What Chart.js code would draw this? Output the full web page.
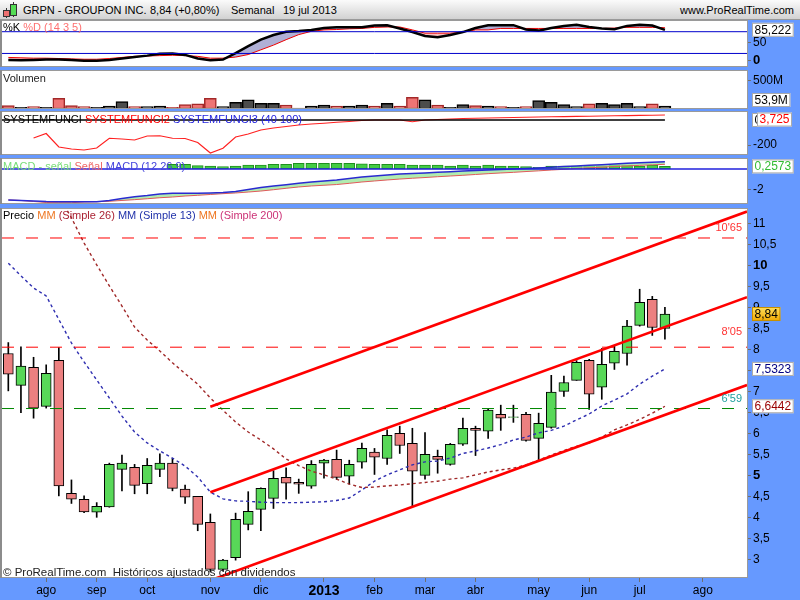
<!DOCTYPE html>
<html>
<head>
<meta charset="utf-8">
<script src="https://cdn.jsdelivr.net/npm/chart.js@4.4.1/dist/chart.umd.min.js"></script>
<style>
body { margin: 0; width: 800px; height: 600px; overflow: hidden; font-family: Arial, "Liberation Sans", sans-serif; }
#wrap { position: relative; width: 800px; height: 600px; background: #6699ff; }
#wrap canvas { position: absolute; left: 0; }
#head { position: absolute; left: 0; top: 0; width: 800px; height: 19px; border-bottom: 1px solid #999;
  background: linear-gradient(#fbfbfb, #d2d2d2); font-size: 11px; color: #000; }
#head span { position: absolute; top: 4px; white-space: pre; }
.ic { position: absolute; border: 1px solid #333; }
.lg { position: absolute; left: 3px; font-size: 11px; line-height: 13px; white-space: pre; }
</style>
</head>
<body>
<div id="wrap">
  <div id="head">
    <div style="position:absolute;left:6px;top:8px;width:1px;height:10px;background:#333"></div>
    <div class="ic" style="left:3px;top:10px;width:5px;height:5px;background:#ee7070"></div>
    <div style="position:absolute;left:13px;top:2px;width:1px;height:15px;background:#333"></div>
    <div class="ic" style="left:10px;top:4px;width:5px;height:10px;background:#55dd55"></div>
    <span style="left:23px">GRPN - GROUPON INC.</span>
    <span style="left:150px">8,84 (+0,80%)</span>
    <span style="left:231px">Semanal</span>
    <span style="left:283px">19 jul 2013</span>
    <span style="right:6px">www.ProRealTime.com</span>
  </div>
  <canvas id="stoch" width="800" height="47" style="top:20px"></canvas>
  <canvas id="vol" width="800" height="39" style="top:70px"></canvas>
  <canvas id="sys" width="800" height="44" style="top:111px"></canvas>
  <canvas id="macd" width="800" height="46" style="top:158px"></canvas>
  <canvas id="main" width="800" height="392" style="top:208px"></canvas>
  <div class="lg" style="top:21px"><span style="color:#000">%K</span> <span style="color:#ff7070">%D (14 3 5)</span></div>
  <div class="lg" style="top:72px;color:#222">Volumen</div>
  <div class="lg" style="top:113px"><span style="color:#000">SYSTEMFUNCI</span> <span style="color:#ff0000">SYSTEMFUNCI2</span> <span style="color:#2222dd">SYSTEMFUNCI3 (40 100)</span></div>
  <div class="lg" style="top:160px"><span style="color:#77dd77">MACD - señal</span> <span style="color:#ee6666">Señal</span> <span style="color:#4444dd">MACD (12 26 9)</span></div>
  <div class="lg" style="top:209px"><span style="color:#000">Precio</span> <span style="color:#ee7722">MM</span><span style="color:#aa2233"> (Simple 26)</span> <span style="color:#2233aa">MM (Simple 13)</span> <span style="color:#ee7722">MM</span><span style="color:#cc3377"> (Simple 200)</span></div>
  <div class="lg" style="top:566px;color:#222;font-size:11.5px">© ProRealTime.com  Históricos ajustados con dividendos</div>
</div>
<script>
const monthIdx = [3, 7, 11, 16, 20, 25, 29, 33, 37, 42, 46, 50, 55]
const monthNames = ['ago', 'sep', 'oct', 'nov', 'dic', '2013', 'feb', 'mar', 'abr', 'may', 'jun', 'jul', 'ago']

const openP = [7.90, 7.14, 7.57, 6.64, 7.74, 4.57, 4.43, 4.12, 4.25, 5.14, 5.19, 4.80, 5.14, 5.29, 4.67, 4.50, 3.88, 2.76, 3.04, 3.83,
  4.19, 4.45, 4.95, 4.83, 4.74, 5.29, 5.38, 4.98, 5.31, 5.55, 5.40, 6.00, 5.76, 5.00, 5.45, 5.26, 5.74, 6.12, 6.05, 6.45,
  6.38, 6.45, 5.88, 6.14, 7.00, 7.26, 7.74, 7.10, 7.67, 7.90, 8.57, 9.19, 8.50]
const highP = [8.16, 8.06, 7.81, 7.63, 8.04, 4.89, 4.51, 4.35, 5.29, 5.48, 5.26, 5.40, 5.51, 5.40, 4.77, 4.50, 4.08, 3.00, 4.10, 4.61,
  4.70, 5.11, 5.18, 4.91, 5.35, 5.38, 5.60, 5.36, 5.77, 5.64, 6.08, 6.17, 6.12, 6.02, 5.60, 5.76, 6.36, 6.17, 6.57, 6.67,
  6.67, 6.50, 6.48, 7.38, 7.36, 7.73, 7.76, 8.02, 8.07, 8.69, 9.43, 9.26, 9.00]
const lowP = [7.01, 6.49, 6.36, 6.60, 4.51, 4.33, 4.11, 4.00, 4.24, 4.63, 4.56, 4.56, 4.97, 4.63, 4.33, 3.68, 2.70, 2.72, 2.98, 3.70,
  3.68, 4.21, 4.43, 4.57, 4.69, 4.93, 4.90, 4.79, 5.17, 5.02, 5.26, 5.52, 4.26, 4.91, 5.05, 5.24, 5.71, 5.47, 5.88, 6.07,
  6.26, 5.81, 5.36, 6.12, 6.88, 7.26, 6.57, 6.81, 7.52, 7.62, 8.55, 8.33, 8.24]
const closeP = [7.41, 7.60, 6.60, 7.43, 4.75, 4.43, 4.13, 4.26, 5.26, 5.29, 4.76, 5.24, 5.29, 4.69, 4.48, 3.83, 2.76, 2.98, 3.95, 4.14,
  4.69, 4.93, 4.81, 4.79, 5.26, 5.36, 4.95, 5.26, 5.64, 5.43, 5.95, 5.71, 5.10, 5.50, 5.38, 5.74, 6.12, 6.07, 6.55, 6.36,
  6.39, 5.83, 6.24, 6.98, 7.21, 7.69, 6.93, 7.64, 7.95, 8.55, 9.12, 8.52, 8.84]

const volumeM = [60, 30, 42, 30, 192, 60, 42, 30, 54, 132, 42, 42, 54, 30, 78, 91, 192, 42, 120, 163,
  101, 101, 72, 18, 54, 72, 54, 54, 72, 54, 101, 54, 210, 163, 72, 30, 78, 60, 54, 42,
  30, 42, 150, 120, 78, 42, 91, 101, 78, 101, 42, 91, 53.9]

const ma26 = [12.9, 12.6, 12.3, 12.0, 11.65, 11.13, 10.53, 10.01, 9.51, 9.03, 8.53, 8.22, 7.96, 7.68, 7.42, 7.17, 6.84, 6.55, 6.27, 6.03,
  5.84, 5.63, 5.39, 5.23, 5.10, 5.01, 4.91, 4.79, 4.71, 4.72, 4.75, 4.77, 4.80, 4.83, 4.86, 4.91, 4.94, 5.01, 5.08, 5.13,
  5.17, 5.25, 5.36, 5.48, 5.59, 5.69, 5.77, 5.91, 6.08, 6.20, 6.33, 6.48, 6.6442]
const ma13 = [10.05, 9.75, 9.46, 9.27, 8.71, 8.15, 7.70, 7.27, 6.84, 6.41, 6.03, 5.77, 5.58, 5.41, 5.22, 4.96, 4.60, 4.44, 4.39, 4.38,
  4.36, 4.35, 4.35, 4.35, 4.36, 4.37, 4.40, 4.46, 4.65, 4.86, 5.01, 5.13, 5.25, 5.32, 5.34, 5.41, 5.52, 5.58, 5.65, 5.73,
  5.84, 5.91, 6.01, 6.07, 6.17, 6.32, 6.46, 6.65, 6.79, 6.94, 7.17, 7.36, 7.5323]

const stochK = [2, 1, 2, 3, 3, 2, 0, 0, 2, 6, 10, 14, 19, 20, 16, 6, 1, 3, 21, 40,
  58, 71, 80, 82, 85, 90, 92, 92, 92, 97, 98, 89, 79, 68, 65, 71, 79, 90, 98, 98,
  98, 86, 83, 90, 96, 99, 93, 89, 87, 96, 99, 97, 85.222]
const stochD = [9, 8, 7, 7, 6, 5, 4, 4, 6, 9, 12, 13, 14, 15, 14, 12, 7, 7, 10, 17,
  30, 43, 58, 72, 81, 85, 86, 88, 89, 92, 93, 93, 85, 76, 76, 76, 79, 85, 85, 89,
  89, 89, 89, 89, 89, 89, 89, 89, 90, 92, 92, 92, 91]
const stochLevels = [80, 20]

const sysRed = [null, null, -144, -108, -216, -232, -240, -224, -146, -152, -160, -128, -126, -146, -148, -180, -264, -226, -136, -112,
  -80, -64, -52, -40, -32, -26, -18, -12, -4, 0, 0, 0, -14, 0, 4, 8, 12, 14, 16, 18,
  20, 22, 24, 26, 27, 29, 30, 32, 34, 35, 37, 38, 40]
const sysBlack = 0

const macdLine = [-3.05, -3.1, -3.15, -3.2, -3.22, -3.22, -3.22, -3.22, -3.1, -2.9, -2.73, -2.61, -2.46, -2.39, -2.39, -2.39, -2.36, -2.32, -2.22, -2.02,
  -1.82, -1.67, -1.55, -1.41, -1.28, -1.18, -1.08, -0.94, -0.79, -0.69, -0.59, -0.49, -0.44, -0.39, -0.33, -0.27, -0.2, -0.15, -0.1, -0.05,
  0, 0.05, 0.1, 0.17, 0.25, 0.3, 0.36, 0.42, 0.49, 0.56, 0.62, 0.67, 0.72]
const macdSignal = [-3.05, -3.1, -3.2, -3.3, -3.32, -3.32, -3.25, -3.22, -3.18, -3.1, -3.02, -2.93, -2.83, -2.76, -2.66, -2.59, -2.51, -2.43, -2.36, -2.27,
  -2.17, -2.04, -1.9, -1.77, -1.67, -1.6, -1.53, -1.41, -1.28, -1.18, -1.08, -0.99, -0.91, -0.84, -0.76, -0.69, -0.62, -0.54, -0.46, -0.39,
  -0.33, -0.25, -0.18, -0.1, -0.03, 0.05, 0.12, 0.18, 0.25, 0.3, 0.36, 0.41, 0.46]
const macdHist = [null, null, null, null, null, null, null, null, null, null, null, null, null, 0.46, 0.46, 0.33, 0.30, 0.23, 0.30, 0.39,
  0.39, 0.46, 0.46, 0.56, 0.56, 0.56, 0.56, 0.56, 0.52, 0.46, 0.46, 0.46, 0.39, 0.39, 0.39, 0.30, 0.39, 0.30, 0.39, 0.30,
  0.30, 0.23, 0.17, 0.30, 0.30, 0.30, 0.30, 0.30, 0.39, 0.39, 0.30, 0.39, 0.2573]

const priceTicks = [3, 3.5, 4, 4.5, 5, 5.5, 6, 6.5, 7, 7.5, 8, 8.5, 9, 9.5, 10, 10.5, 11]
const levels = [10.65, 8.05, 6.59]
const levelText = ["10'65", "8'05", "6'59"]
const channelX = [16, 58.5]
const channelUpper = [6.63, 11.28]
const channelMiddle = [4.595, 9.24]
const channelLower = [2.5, 7.15]

const BLUE = '#6699ff'
const RED_BODY = '#ec8080'
const GREEN_BODY = '#58d858'

Chart.defaults.animation = false
Chart.defaults.events = []
Chart.defaults.font.family = 'Arial, "Liberation Sans", sans-serif'
Chart.defaults.font.size = 12
Chart.defaults.color = '#000'
Chart.defaults.elements.point.radius = 0
Chart.defaults.plugins.legend.display = false
Chart.defaults.plugins.tooltip.enabled = false

const pts = (arr) => arr.map((v, i) => ({ x: i, y: v }))
const span = (v, from = -0.5, to = 58.5) => [{ x: from, y: v }, { x: to, y: v }]
const comma = (v) => String(v).replace('.', ',')
const isUp = (i) => closeP[i] >= openP[i]

const drawBox = (chart, b) => {
  const { ctx, chartArea: a } = chart
  ctx.font = '12px Arial, "Liberation Sans", sans-serif'
  const w = ctx.measureText(b.text).width + 5
  const h = 14
  let y = chart.scales.y.getPixelForValue(b.value) - h / 2
  y = Math.max(a.top + 1, Math.min(a.bottom - h - 2, y))
  const x = a.right + 5 + (b.dx || 0)
  if (b.gold) {
    const g = ctx.createLinearGradient(0, y, 0, y + h)
    g.addColorStop(0, '#ffe060')
    g.addColorStop(1, '#f0a800')
    ctx.fillStyle = g
  } else ctx.fillStyle = '#fff'
  ctx.fillRect(x, y, w, h)
  ctx.strokeStyle = b.gold ? '#c89000' : '#aaa'
  ctx.lineWidth = 1
  ctx.strokeRect(x + 0.5, y + 0.5, w - 1, h - 1)
  ctx.fillStyle = b.color
  ctx.textBaseline = 'middle'
  ctx.textAlign = 'left'
  ctx.fillText(b.text, x + 2.5, y + h / 2 + 0.5)
}

const panelPlugin = (boxes = []) => ({
  id: 'panel',
  beforeDraw: (chart) => {
    const { ctx, chartArea: a, width, height } = chart
    ctx.save()
    ctx.fillStyle = BLUE
    ctx.fillRect(0, 0, width, height)
    ctx.fillStyle = '#fff'
    ctx.fillRect(a.left, a.top, a.right - a.left, a.bottom - a.top)
    ctx.restore()
  },
  afterDraw: (chart) => {
    const { ctx, chartArea: a } = chart
    ctx.save()
    ctx.strokeStyle = '#9a9a9a'
    ctx.lineWidth = 1
    ctx.strokeRect(a.left - 0.5, a.top + 0.5, a.right - a.left + 1, a.bottom - a.top - 1)
    ctx.fillStyle = '#8c8c8c'
    ctx.fillRect(0, a.top, 2, a.bottom - a.top)
    boxes.forEach((b) => drawBox(chart, b))
    ctx.restore()
  }
})

const levelLabels = {
  id: 'levelLabels',
  afterDatasetsDraw: (chart) => {
    const { ctx, chartArea: a } = chart
    const colors = ['#ff3333', '#ff3333', '#22a0a0']
    const dy = [10, 15, 10]
    ctx.save()
    ctx.font = '11px Arial, "Liberation Sans", sans-serif'
    ctx.textAlign = 'right'
    ctx.textBaseline = 'middle'
    levels.forEach((v, i) => {
      ctx.fillStyle = colors[i]
      ctx.fillText(levelText[i], a.right - 5, chart.scales.y.getPixelForValue(v) - dy[i])
    })
    ctx.restore()
  }
}

const xHidden = { type: 'linear', display: false, min: -0.5, max: 58.5, offset: false, grid: { offset: false } }

// tick labels must not shrink the value range, so the label padding is dropped after fit
const yScale = (min, max, ticks, label, bold = []) => ({
  type: 'linear', position: 'right', min, max, offset: false,
  afterFit: (s) => { s.width = 53; s.paddingTop = 0; s.paddingBottom = 0 },
  afterBuildTicks: (s) => { s.ticks = ticks.map((v) => ({ value: v })) },
  grid: { drawOnChartArea: false, tickLength: 4, color: '#6f6f6f' },
  border: { display: false },
  ticks: {
    padding: 2, color: '#000', callback: label,
    font: (c) => (c.tick && bold.includes(c.tick.value) ? { size: 13, weight: 'bold' } : { size: 12 })
  }
})

const baseOpts = (y, x = xHidden) => ({
  responsive: false,
  layout: { padding: { left: 2, right: 0, top: 0, bottom: 0 }, autoPadding: false },
  scales: { x, y }
})

// stochastic
new Chart(document.getElementById('stoch'), {
  type: 'line',
  data: {
    datasets: [
      { data: pts(stochK), borderColor: '#000', borderWidth: 2.5, order: 1 },
      { data: pts(stochD), borderColor: '#ee0000', borderWidth: 1, order: 2,
        fill: { target: 0, above: 'rgba(255,170,170,0.75)', below: 'rgba(150,150,200,0.75)' } },
      ...stochLevels.map((v) => ({ data: span(v), borderColor: '#0000cc', borderWidth: 1, order: 0 }))
    ]
  },
  options: baseOpts(yScale(-17.4, 112.3, [0, 50], (v) => String(v), [0])),
  plugins: [panelPlugin([{ value: stochK[stochK.length - 1], text: '85,222', color: '#000' }])]
})

// volume
new Chart(document.getElementById('vol'), {
  type: 'bar',
  data: {
    datasets: [{
      data: pts(volumeM),
      backgroundColor: volumeM.map((_, i) => (isUp(i) ? '#4c4c4c' : '#ee7474')),
      borderColor: volumeM.map((_, i) => (isUp(i) ? '#000' : '#a32828')),
      borderWidth: 1.5, borderSkipped: false, barThickness: 12
    }]
  },
  options: baseOpts(yScale(0, 696, [500], (v) => v + 'M')),
  plugins: [panelPlugin([{ value: volumeM[volumeM.length - 1], text: '53,9M', color: '#000' }])]
})

// systemfunci
new Chart(document.getElementById('sys'), {
  type: 'line',
  data: {
    datasets: [
      { data: span(sysBlack, -0.5, 52), borderColor: '#000', borderWidth: 1.5 },
      { data: pts(sysRed), borderColor: '#ff2020', borderWidth: 1.2, spanGaps: false }
    ]
  },
  options: baseOpts(yScale(-280, 72, [-200], (v) => String(v))),
  plugins: [panelPlugin([
    { value: sysBlack, text: '0', color: '#000' },
    { value: 3.725, text: '3,725', color: '#ff0000', dx: 5 }
  ])]
})

// macd
new Chart(document.getElementById('macd'), {
  type: 'bar',
  data: {
    datasets: [
      { type: 'line', data: pts(macdLine), borderColor: '#2a2ad0', borderWidth: 1.5, order: 1 },
      { type: 'line', data: pts(macdSignal), borderColor: '#e05a5a', borderWidth: 1, order: 2,
        fill: { target: 0, above: 'rgba(255,180,180,0.7)', below: 'rgba(150,230,150,0.75)' } },
      { type: 'line', data: span(0), borderColor: '#2020dd', borderWidth: 1.5, order: 0 },
      { data: pts(macdHist), backgroundColor: '#44cc44', borderColor: '#1f8f1f', borderWidth: 1,
        borderSkipped: false, barThickness: 11, order: 3 }
    ]
  },
  options: baseOpts(yScale(-3.448, 1.084, [-2], (v) => String(v))),
  plugins: [panelPlugin([{ value: macdHist[macdHist.length - 1], text: '0,2573', color: '#33bb33' }])]
})

// price
const xMain = {
  type: 'linear', min: -0.5, max: 58.5, offset: false,
  afterFit: (s) => { s.height = 22; s.paddingLeft = 0; s.paddingRight = 0 },
  afterBuildTicks: (s) => { s.ticks = monthIdx.map((v) => ({ value: v })) },
  grid: { drawOnChartArea: false, tickLength: 4, color: '#6f6f6f', offset: false },
  border: { display: false },
  ticks: {
    autoSkip: false, maxRotation: 0, padding: 1, color: '#000',
    callback: (v, i) => monthNames[i],
    font: (c) => (c.index === 5 ? { size: 14, weight: 'bold' } : { size: 12 })
  }
}

const channel = (vals) => ({
  type: 'line', data: channelX.map((x, i) => ({ x, y: vals[i] })),
  borderColor: '#ff0000', borderWidth: 2.6, order: 0
})

new Chart(document.getElementById('main'), {
  type: 'bar',
  data: {
    datasets: [
      { data: openP.map((_, i) => ({ x: i, y: [lowP[i], highP[i]] })), backgroundColor: '#000',
        barThickness: 1, grouped: false, order: 5 },
      { data: openP.map((o, i) => ({ x: i, y: [o, closeP[i]] })),
        backgroundColor: openP.map((_, i) => (isUp(i) ? GREEN_BODY : RED_BODY)),
        borderColor: '#000', borderWidth: 1, borderSkipped: false, barThickness: 10, grouped: false, order: 4 },
      { type: 'line', data: pts(ma26), borderColor: '#a02828', borderWidth: 1.4, borderDash: [3, 3], order: 3 },
      { type: 'line', data: pts(ma13), borderColor: '#2e2eb0', borderWidth: 1.4, borderDash: [3, 3], order: 3 },
      ...levels.map((v, i) => ({
        type: 'line', data: span(v), borderColor: i === 2 ? '#008800' : '#ff0000',
        borderWidth: 1, borderDash: [12, 12], order: 2
      })),
      channel(channelUpper),
      channel(channelMiddle),
      channel(channelLower)
    ]
  },
  options: baseOpts(yScale(2.555, 11.364, priceTicks, comma, [5, 10]), xMain),
  plugins: [levelLabels, panelPlugin([
    { value: ma26[ma26.length - 1], text: '6,6442', color: '#990000' },
    { value: ma13[ma13.length - 1], text: '7,5323', color: '#000080' },
    { value: closeP[closeP.length - 1], text: '8,84', color: '#000', gold: true }
  ])]
})
</script>
</body>
</html>
